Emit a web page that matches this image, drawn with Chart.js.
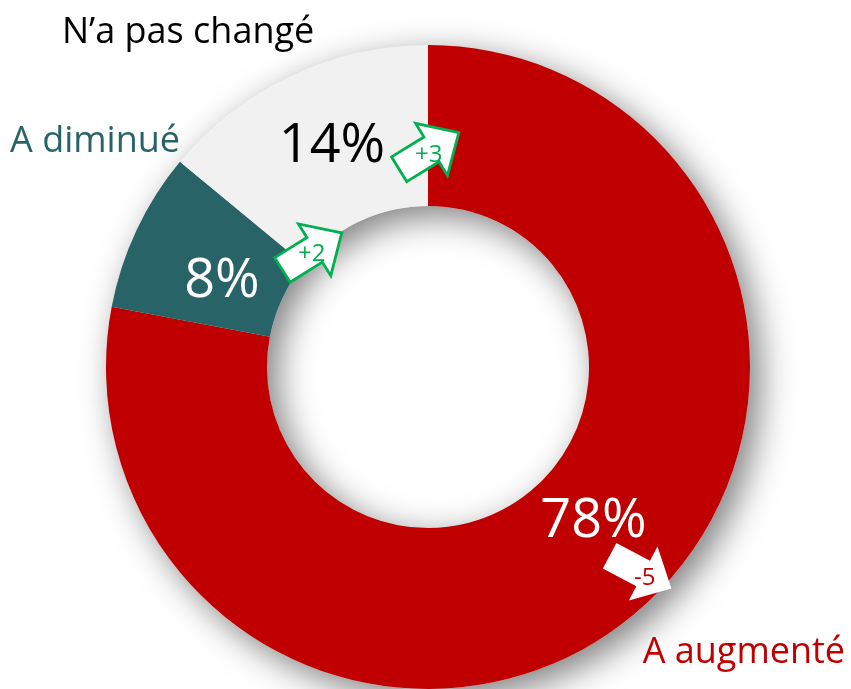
<!DOCTYPE html>
<html>
<head>
<meta charset="utf-8">
<script src="https://cdn.jsdelivr.net/npm/chart.js@4/dist/chart.umd.min.js"></script>
<style>
  html, body { margin: 0; padding: 0; background: #ffffff; }
  #wrap { width: 851px; height: 689px; }
</style>
</head>
<body>
<div id="wrap"><canvas id="c" width="851" height="689"></canvas></div>
<script>
// ---- Data ----
const categories = ["A augmenté", "A diminué", "N’a pas changé"];
const values = [78, 8, 14];
const valueLabels = ["78%", "8%", "14%"];
const deltas = ["-5", "+2", "+3"];

// ---- Styles / layout (baselines relative to the doughnut centre, in units of outer radius) ----
const sliceColors = ["#C00000", "#286467", "#F1F1F1"];
const catColors = ["#C00000", "#286467", "#000000"];
const pctColors = ["#FFFFFF", "#FFFFFF", "#000000"];
const catPos = [[0.981, 0.919], [-1.034, -0.668], [-0.745, -1.006]];
const pctPos = [[0.514, 0.528], [-0.640, -0.217], [-0.298, -0.637]];
const arrowPos = [[0.660, 0.637], [-0.360, -0.359], [0.003, -0.671]];
const arrowAngle = [28, -32, -31.5];
const deltaPos = [[0.673, 0.678], [-0.361, -0.329], [0.002, -0.637]];

const LABEL_FONT = "'Open Sans', 'DejaVu Sans', sans-serif";

const ringShadow = {
  id: 'ringShadow',
  beforeDatasetsDraw(chart) {
    const arc = chart.getDatasetMeta(0).data[0];
    if (!arc) return;
    const ctx = chart.ctx;
    const {x, y, outerRadius, innerRadius} = arc;
    ctx.save();
    ctx.shadowColor = 'rgba(0,0,0,0.5)';
    ctx.shadowBlur = 34;
    ctx.shadowOffsetX = 10;
    ctx.shadowOffsetY = 10;
    ctx.beginPath();
    ctx.arc(x, y, outerRadius, 0, Math.PI * 2, false);
    ctx.arc(x, y, innerRadius, 0, Math.PI * 2, true);
    ctx.closePath();
    ctx.fillStyle = '#d8d8d8';
    ctx.fill();
    ctx.restore();
  }
};

function drawArrow(ctx, cx, cy, angDeg, fill, stroke) {
  const L = 35, hb = 3, sh = 14.5, hh = 30.5;
  ctx.save();
  ctx.translate(cx, cy);
  ctx.rotate(angDeg * Math.PI / 180);
  ctx.beginPath();
  ctx.moveTo(-L, -sh);
  ctx.lineTo(hb, -sh);
  ctx.lineTo(hb, -hh);
  ctx.lineTo(L, 0);
  ctx.lineTo(hb, hh);
  ctx.lineTo(hb, sh);
  ctx.lineTo(-L, sh);
  ctx.closePath();
  ctx.fillStyle = fill;
  ctx.fill();
  if (stroke) {
    ctx.lineWidth = 2.8;
    ctx.lineJoin = 'miter';
    ctx.strokeStyle = stroke;
    ctx.stroke();
  }
  ctx.restore();
}

const annotations = {
  id: 'annotations',
  afterDatasetsDraw(chart) {
    const arc = chart.getDatasetMeta(0).data[0];
    if (!arc) return;
    const ctx = chart.ctx;
    const cx = arc.x, cy = arc.y, R = arc.outerRadius;
    ctx.save();
    ctx.textAlign = 'center';
    ctx.textBaseline = 'alphabetic';
    // category labels
    categories.forEach((c, i) => {
      ctx.font = "36px " + LABEL_FONT;
      ctx.fillStyle = catColors[i];
      ctx.fillText(c, cx + catPos[i][0] * R, cy + catPos[i][1] * R);
    });
    // value labels
    valueLabels.forEach((t, i) => {
      ctx.font = "54px " + LABEL_FONT;
      ctx.fillStyle = pctColors[i];
      ctx.fillText(t, cx + pctPos[i][0] * R, cy + pctPos[i][1] * R);
    });
    // change arrows
    deltas.forEach((d, i) => {
      const neg = d.trim().startsWith('-');
      drawArrow(ctx, cx + arrowPos[i][0] * R, cy + arrowPos[i][1] * R, arrowAngle[i],
                '#FFFFFF', neg ? null : '#00B050');
      ctx.font = "24px " + LABEL_FONT;
      ctx.fillStyle = neg ? '#C00000' : '#00B050';
      ctx.fillText(d, cx + deltaPos[i][0] * R, cy + deltaPos[i][1] * R);
    });
    ctx.restore();
  }
};

new Chart(document.getElementById('c'), {
  type: 'doughnut',
  data: {
    labels: categories,
    datasets: [{
      data: values,
      backgroundColor: sliceColors,
      borderWidth: 0,
      hoverOffset: 0
    }]
  },
  options: {
    responsive: false,
    animation: false,
    cutout: '50%',
    rotation: 0,
    layout: { padding: { left: 106, right: 101, top: 45, bottom: 0 } },
    plugins: {
      legend: { display: false },
      tooltip: { enabled: false }
    }
  },
  plugins: [ringShadow, annotations]
});
</script>
</body>
</html>
